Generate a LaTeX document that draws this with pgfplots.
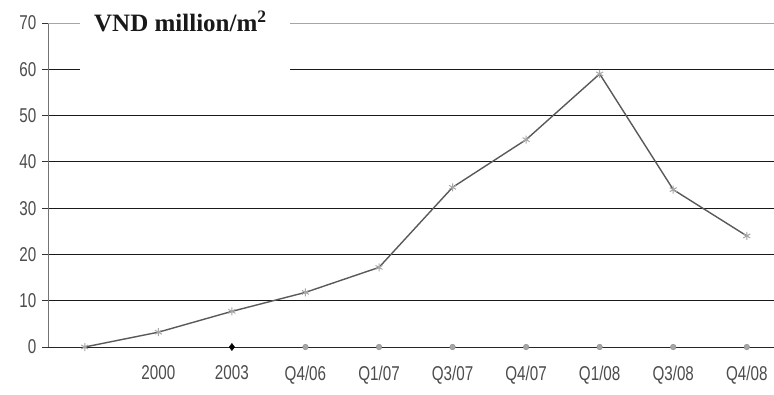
\documentclass[border=0pt]{standalone}
\usepackage{pgfplots}
\pgfplotsset{compat=1.18}
\usepackage{fontspec}
\setmainfont{Liberation Sans}
\newfontfamily\titlefont{Liberation Serif}
\begin{document}
\begin{tikzpicture}[x=1pt,y=1pt]
\useasboundingbox (-48,-47) rectangle (726,347);
\begin{axis}[
  at={(0,0)}, anchor=south west,
  scale only axis, width=726pt, height=324pt,
  xmin=-0.5, xmax=9.37, ymin=0, ymax=70,
  clip mode=individual,
  axis lines*=left,
  x axis line style={-, black!85, line width=1pt},
  y axis line style={-, black!55, line width=0.9pt},
  xtick={1,...,9},
  xticklabels={2000,2003,Q4/06,Q1/07,Q3/07,Q4/07,Q1/08,Q3/08,Q4/08},
  major x tick style={draw=none},
  extra x ticks={0.5,1.5,...,8.5},
  extra x tick labels={},
  extra x tick style={major tick length=6pt, tick style={black!70, line width=0.8pt}, xticklabel=\empty},
  ytick={0,10,...,60},
  extra y ticks={70},
  extra y tick style={grid style={black!35, line width=0.8pt}},
  ymajorgrids,
  grid style={black!90, line width=1pt},
  tick align=outside,
  major tick length=6pt,
  y tick style={black!80, line width=0.9pt},
  /pgf/number format/assume math mode=true,
  tick label style={font=\fontsize{20}{22}\selectfont, text=black!70, xscale=0.76},
  xticklabel style={yshift=-9pt},
  yticklabel style={xshift=-4pt},
]
\fill[white] (axis cs:-0.07,55) rectangle (axis cs:2.79,72);
\addplot[color=black!65, line width=1.4pt, mark=asterisk, mark size=4pt,
  mark options={solid, black!35, line width=1pt}] coordinates {
  (0,0) (1,3.2) (2,7.7) (3,11.8) (4,17.2) (5,34.5) (6,44.8) (7,59) (8,34) (9,24)
};
\addplot[only marks, mark=*, mark size=2.8pt, mark options={fill=black!35, draw=black!45}] coordinates {
  (3,0) (4,0) (5,0) (6,0) (7,0) (8,0) (9,0)
};
\addplot[only marks, mark=diamond*, mark size=3.6pt, mark options={fill=black, draw=black}] coordinates {
  (2,0)
};
\node[font=\titlefont\bfseries\fontsize{25}{27}\selectfont, text=black!90, anchor=base] at (axis cs:1.3,68.2) {VND million/m\textsuperscript{2}};
\end{axis}
\end{tikzpicture}
\end{document}
